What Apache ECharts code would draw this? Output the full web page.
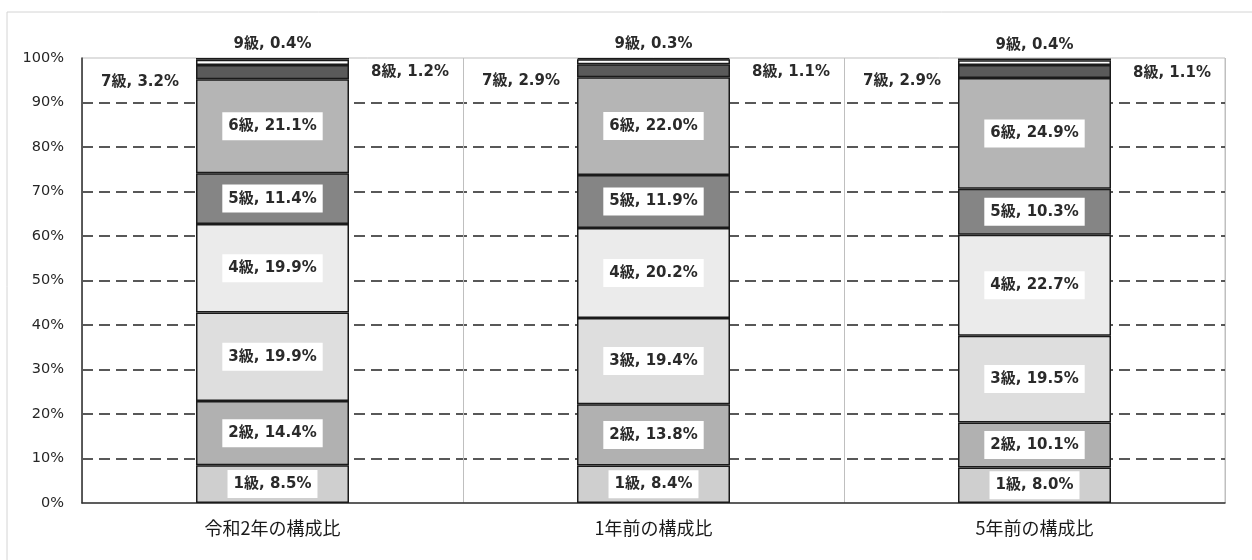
<!DOCTYPE html>
<html><head><meta charset="utf-8">
<script src="https://cdn.jsdelivr.net/npm/echarts@6/dist/echarts.min.js"></script>
<style>html,body{margin:0;padding:0;background:#fff}#c{width:1252px;height:560px}</style>
</head><body><div id="c"></div>
<script>
const categories = ['令和2年の構成比', '1年前の構成比', '5年前の構成比'];
const grades = ['1級','2級','3級','4級','5級','6級','7級','8級','9級'];
const g1 = [8.5, 8.4, 8.0];
const g2 = [14.4, 13.8, 10.1];
const g3 = [19.9, 19.4, 19.5];
const g4 = [19.9, 20.2, 22.7];
const g5 = [11.4, 11.9, 10.3];
const g6 = [21.1, 22.0, 24.9];
const g7 = [3.2, 2.9, 2.9];
const g8 = [1.2, 1.1, 1.1];
const g9 = [0.4, 0.3, 0.4];
const yTicks = [0,10,20,30,40,50,60,70,80,90,100];

const values = [g1,g2,g3,g4,g5,g6,g7,g8,g9];
const colors = ['#cfcfcf','#b1b1b1','#dedede','#ebebeb','#858585','#b5b5b5','#5a5a5a','#ffffff','#2a2a2a'];
const font = '"DejaVu Sans", "Noto Sans CJK JP", sans-serif';
const cjk = '"Noto Sans CJK JP", sans-serif';
const baseLabel = {
  show: true, fontFamily: font, fontSize: 15, fontWeight: 'bold', color: '#2a2a2a',
  formatter: p => p.seriesName + ', ' + p.value.toFixed(1) + '%'
};
function labelFor(i){
  if (i < 6) return Object.assign({}, baseLabel, {position:'inside', backgroundColor:'#ffffff', padding:[7,6,6,6]});
  if (i === 6) return Object.assign({}, baseLabel, {position:'left', distance:17});
  if (i === 7) return Object.assign({}, baseLabel, {position:'right', distance:22});
  return Object.assign({}, baseLabel, {position:'top', distance:6, offset:[-132,0]});
}
function layoutFor(i){
  if (i === 6 || i === 7) return {hideOverlap:false, dy:10};
  return {hideOverlap:false};
}
const series = grades.map((g,i)=>({
  name: g, type:'bar', stack:'all', barWidth: 153,
  data: values[i],
  itemStyle: {color: colors[i], borderColor:'#1a1a1a', borderWidth:1.5},
  label: labelFor(i),
  labelLayout: layoutFor(i),
  emphasis:{disabled:true}
}));

const chart = echarts.init(document.getElementById('c'));
chart.setOption({
  animation:false,
  backgroundColor:'#ffffff',
  graphic:[{type:'rect', shape:{x:7,y:12,width:1300,height:600}, style:{fill:'none', stroke:'#d4d4d4', lineWidth:1}, silent:true, z:-10}],
  grid:{left:82, right:27, top:58, bottom:57, show:true, borderColor:'#bfbfbf', borderWidth:1, backgroundColor:'transparent'},
  xAxis:{type:'category', data:categories,
    axisLine:{show:true, lineStyle:{color:'#333', width:1.5}},
    axisTick:{show:false},
    axisLabel:{fontFamily:cjk, fontSize:18, color:'#1a1a1a', margin:16},
    splitLine:{show:true, lineStyle:{color:'#bfbfbf', width:1}}
  },
  yAxis:{type:'value', min:0, max:100, interval:10,
    axisLine:{show:true, lineStyle:{color:'#333', width:1.5}},
    axisTick:{show:false},
    axisLabel:{fontFamily:'"DejaVu Sans", sans-serif', fontSize:14.5, color:'#262626', margin:18, formatter: v => v + '%'},
    splitLine:{show:true, showMinLine:false, showMaxLine:false, lineStyle:{color:'#222', width:1.5, type:[11,6]}}
  },
  series
});
</script></body></html>
